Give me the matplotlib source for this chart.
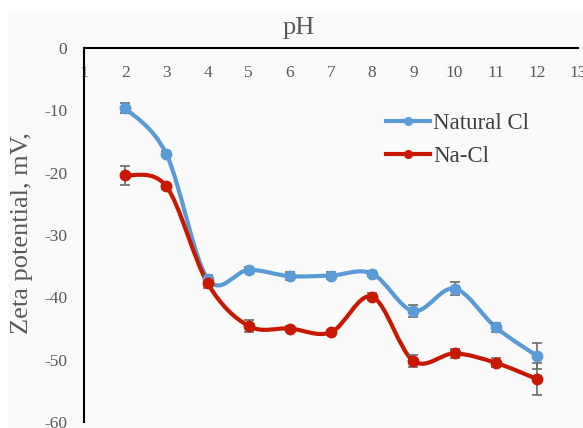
import matplotlib
matplotlib.use("Agg")
import matplotlib.pyplot as plt
from matplotlib.path import Path
from matplotlib.patches import PathPatch, Rectangle
from matplotlib.lines import Line2D
import numpy as np

ph = [2, 3, 4, 5, 6, 7, 8, 9, 10, 11, 12]
natural_cl = [-9.6, -17.0, -37.0, -35.6, -36.6, -36.5, -36.2, -42.2, -38.6, -44.8, -49.4]
natural_err = [0.8, 0.4, 0.6, 0.4, 0.6, 0.6, 0.4, 0.9, 1.0, 0.7, 2.1]
na_cl = [-20.4, -22.2, -37.7, -44.6, -45.0, -45.6, -39.9, -50.2, -49.0, -50.5, -53.1]
na_err = [1.5, 0.4, 0.8, 1.0, 0.4, 0.4, 0.6, 0.9, 0.7, 0.7, 2.6]
x_ticks = list(range(1, 14))
y_ticks = [0, -10, -20, -30, -40, -50, -60]

W, H = 583, 428
fig = plt.figure(figsize=(W / 100, H / 100), dpi=100)
fig.patch.set_facecolor("white")
fig.patches.append(Rectangle((8 / W, 0), 1, 1 - 11 / H, transform=fig.transFigure,
                             facecolor="#FAFAFA", edgecolor="none", zorder=-10))

ax = fig.add_axes([84 / W, 1 - 422 / H, (578 - 84) / W, (422 - 48) / H])
ax.set_facecolor("none")
ax.set_xlim(1, 13)
ax.set_ylim(-60, 0)

serif = "Liberation Serif"
tick_col = "#595959"


def smooth_path(xs, ys):
    pts = np.column_stack([xs, ys])
    n = len(pts)
    verts = [pts[0]]
    codes = [Path.MOVETO]
    for i in range(n - 1):
        p0 = pts[i - 1] if i > 0 else pts[i]
        p1 = pts[i]
        p2 = pts[i + 1]
        p3 = pts[i + 2] if i + 2 < n else pts[i + 1]
        c1 = p1 + (p2 - p0) / 6.0
        c2 = p2 - (p3 - p1) / 6.0
        verts += [c1, c2, p2]
        codes += [Path.CURVE4] * 3
    return Path(verts, codes)


series = [
    (natural_cl, natural_err, "#5B9BD5", "Natural Cl"),
    (na_cl, na_err, "#C81800", "Na-Cl"),
]
handles = []
for vals, errs, col, lab in series:
    ax.add_patch(PathPatch(smooth_path(ph, vals), facecolor="none", edgecolor=col,
                           lw=3.0, capstyle="round", joinstyle="round", zorder=3))
    ax.errorbar(ph, vals, yerr=errs, fmt="none", ecolor="#6b6b6b", elinewidth=1.2,
                capsize=3.5, capthick=1.2, zorder=4)
    ax.plot(ph, vals, "o", color=col, markersize=7.5, zorder=5, linestyle="none")
    handles.append(Line2D([0], [0], color=col, lw=3.0, marker="o", markersize=5.5, label=lab))

for s in ["top", "right"]:
    ax.spines[s].set_visible(False)
ax.spines["bottom"].set_position(("data", 0))
ax.spines["bottom"].set_color("black")
ax.spines["bottom"].set_linewidth(1.5)
ax.spines["left"].set_color("black")
ax.spines["left"].set_linewidth(1.5)

ax.set_xticks(x_ticks)
ax.set_yticks(y_ticks)
ax.set_xticklabels([str(v) for v in x_ticks], fontfamily=serif, fontsize=12.5, color=tick_col)
ax.set_yticklabels([str(v) for v in y_ticks], fontfamily=serif, fontsize=12.5, color=tick_col)
ax.tick_params(axis="x", length=0, pad=12)
ax.tick_params(axis="y", length=0, pad=12)

fig.text(299 / W, 1 - 28 / H, "pH", fontfamily=serif, fontsize=19, color=tick_col,
         ha="center", va="center")
fig.text(22 / W, 1 - 233 / H, "Zeta potential, mV,", fontfamily=serif, fontsize=19,
         color=tick_col, ha="center", va="center", rotation=90)

leg = ax.legend(handles=handles, loc="upper left",
                bbox_to_anchor=((377 - 84) / (578 - 84), 1 - (104 - 48) / (422 - 48)),
                frameon=False, prop={"family": serif, "size": 16.5}, handlelength=1.9,
                handletextpad=0.15, labelspacing=0.5, borderaxespad=0)
for t in leg.get_texts():
    t.set_color("#404040")

fig.savefig("out.png", dpi=100, facecolor=fig.get_facecolor())
